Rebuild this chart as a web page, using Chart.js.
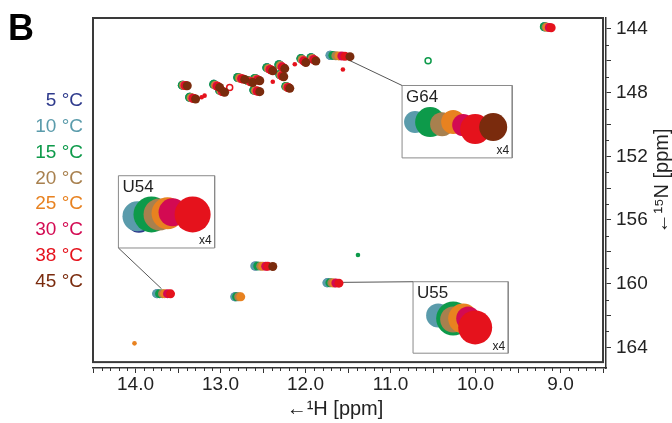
<!DOCTYPE html>
<html>
<head>
<meta charset="utf-8">
<script src="https://cdn.jsdelivr.net/npm/chart.js@4.4.1/dist/chart.umd.min.js"></script>
<style>
  html, body { margin: 0; padding: 0; background: #fff; }
  #wrap { width: 672px; height: 423px; }
</style>
</head>
<body>
<div id="wrap"><canvas id="nmr" width="672" height="423"></canvas></div>
<script>
// Temperatures and their colours
const temperatures = ['5 °C', '10 °C', '15 °C', '20 °C', '25 °C', '30 °C', '38 °C', '45 °C'];
const tempColors = ['#2e3a8c', '#5a9bab', '#0d9a4a', '#a8804e', '#e88220', '#d30a52', '#e5121c', '#7a2b0d'];

// Axis ranges (ppm) and tick labels
const hRange = [14.5, 8.5];
const nRange = [143.31, 164.93];
const hTickLabels = [14, 13, 12, 11, 10, 9];
const nTickLabels = [144, 148, 152, 156, 160, 164];

// Imino cross peaks (1H ppm, 15N ppm) for each temperature
const peaks05 = [
  {x: 13.446, y: 147.53}, {x: 13.360, y: 148.29}, {x: 13.077, y: 147.48}, {x: 13.006, y: 147.86},
  {x: 12.794, y: 147.05}, {x: 12.676, y: 147.24}, {x: 12.593, y: 147.11}, {x: 12.605, y: 147.84},
  {x: 12.452, y: 146.43}, {x: 12.310, y: 146.24}, {x: 12.299, y: 146.86}, {x: 12.228, y: 147.61},
  {x: 12.051, y: 145.86}, {x: 11.933, y: 145.80}, {x: 11.708, y: 145.65}, {x: 9.187, y: 143.86},
  {x: 12.590, y: 158.89}, {x: 12.826, y: 160.82}, {x: 13.745, y: 160.63}, {x: 11.742, y: 159.95}
];
const peaks10 = [
  {x: 13.448, y: 147.53}, {x: 13.362, y: 148.29}, {x: 13.079, y: 147.48}, {x: 13.008, y: 147.86},
  {x: 12.796, y: 147.05}, {x: 12.678, y: 147.24}, {x: 12.595, y: 147.11}, {x: 12.607, y: 147.84},
  {x: 12.454, y: 146.43}, {x: 12.312, y: 146.24}, {x: 12.301, y: 146.86}, {x: 12.230, y: 147.61},
  {x: 12.053, y: 145.86}, {x: 11.935, y: 145.80}, {x: 11.713, y: 145.65}, {x: 9.189, y: 143.86},
  {x: 12.597, y: 158.89}, {x: 12.833, y: 160.82}, {x: 13.753, y: 160.63}, {x: 11.749, y: 159.95}
];
const peaks15 = [
  {x: 13.450, y: 147.53}, {x: 13.364, y: 148.29}, {x: 13.081, y: 147.48}, {x: 13.010, y: 147.86},
  {x: 12.798, y: 147.05}, {x: 12.680, y: 147.24}, {x: 12.597, y: 147.11}, {x: 12.609, y: 147.84},
  {x: 12.456, y: 146.43}, {x: 12.314, y: 146.24}, {x: 12.303, y: 146.86}, {x: 12.232, y: 147.61},
  {x: 12.055, y: 145.86}, {x: 11.937, y: 145.80}, {x: 11.678, y: 145.66}, {x: 9.191, y: 143.86},
  {x: 12.562, y: 158.89}, {x: 12.810, y: 160.82}, {x: 13.717, y: 160.63}, {x: 11.713, y: 159.95}
];
const peaks20 = [
  {x: 13.435, y: 147.54}, {x: 13.346, y: 148.32}, {x: 13.063, y: 147.53}, {x: 12.995, y: 147.89},
  {x: 12.777, y: 147.08}, {x: 12.665, y: 147.27}, {x: 12.582, y: 147.15}, {x: 12.591, y: 147.87},
  {x: 12.438, y: 146.48}, {x: 12.297, y: 146.30}, {x: 12.291, y: 146.90}, {x: 12.220, y: 147.64},
  {x: 12.040, y: 145.92}, {x: 11.922, y: 145.85}, {x: 11.643, y: 145.68}, {x: 9.170, y: 143.88},
  {x: 12.527, y: 158.90}, {x: 12.786, y: 160.82}, {x: 13.682, y: 160.63}, {x: 11.690, y: 159.95}
];
const peaks25 = [
  {x: 13.426, y: 147.55}, {x: 13.336, y: 148.33}, {x: 13.053, y: 147.56}, {x: 12.986, y: 147.91},
  {x: 12.765, y: 147.10}, {x: 12.656, y: 147.29}, {x: 12.573, y: 147.17}, {x: 12.581, y: 147.88},
  {x: 12.428, y: 146.51}, {x: 12.286, y: 146.34}, {x: 12.284, y: 146.92}, {x: 12.213, y: 147.66},
  {x: 12.031, y: 145.96}, {x: 11.913, y: 145.88}, {x: 11.607, y: 145.69}, {x: 9.155, y: 143.89},
  {x: 12.503, y: 158.90}, {x: 12.762, y: 160.83}, {x: 13.658, y: 160.63}, {x: 11.666, y: 159.96}
];
const peaks30 = [
  {x: 13.418, y: 147.55}, {x: 13.325, y: 148.35}, {x: 13.042, y: 147.58}, {x: 12.978, y: 147.93},
  {x: 12.752, y: 147.12}, {x: 12.648, y: 147.31}, {x: 12.565, y: 147.19}, {x: 12.570, y: 147.90},
  {x: 12.417, y: 146.54}, {x: 12.276, y: 146.38}, {x: 12.277, y: 146.94}, {x: 12.206, y: 147.68},
  {x: 12.023, y: 146.00}, {x: 11.905, y: 145.92}, {x: 11.572, y: 145.70}, {x: 9.132, y: 143.91},
  {x: 12.468, y: 158.91}, {x: 13.623, y: 160.63}, {x: 11.643, y: 159.96}
];
const peaks38 = [
  {x: 13.406, y: 147.56}, {x: 13.311, y: 148.37}, {x: 13.028, y: 147.62}, {x: 12.966, y: 147.95},
  {x: 12.736, y: 147.14}, {x: 12.636, y: 147.33}, {x: 12.553, y: 147.22}, {x: 12.556, y: 147.92},
  {x: 12.403, y: 146.58}, {x: 12.262, y: 146.43}, {x: 12.268, y: 146.97}, {x: 12.197, y: 147.70},
  {x: 12.011, y: 146.05}, {x: 11.893, y: 145.96}, {x: 11.536, y: 145.71}, {x: 9.110, y: 143.92},
  {x: 12.444, y: 158.91}, {x: 13.588, y: 160.64}, {x: 11.607, y: 159.97}
];
const peaks45 = [
  {x: 13.391, y: 147.57}, {x: 13.293, y: 148.40}, {x: 13.010, y: 147.67}, {x: 12.951, y: 147.98},
  {x: 12.715, y: 147.17}, {x: 12.621, y: 147.36}, {x: 12.538, y: 147.25}, {x: 12.538, y: 147.94},
  {x: 12.385, y: 146.63}, {x: 12.244, y: 146.49}, {x: 12.256, y: 147.00}, {x: 12.185, y: 147.73},
  {x: 11.996, y: 146.11}, {x: 11.878, y: 146.01}, {x: 11.477, y: 145.74}, {x: 12.385, y: 158.92}
];
const mainPeaks = [peaks05, peaks10, peaks15, peaks20, peaks25, peaks30, peaks38, peaks45];

// weak single-temperature peaks (dots) and contour rings
const weakDots = [[], [], [{x: 11.383, y: 158.20}], [], [{x: 14.012, y: 163.75}], [],
  [{x: 12.385, y: 147.32}, {x: 12.126, y: 146.22}, {x: 11.560, y: 146.55}, {x: 13.187, y: 148.19}, {x: 13.222, y: 148.29}], []];
const weakRings = [[], [], [{x: 10.558, y: 145.99}], [], [], [], [{x: 12.892, y: 147.67}], []];

// x4 insets: box corners and magnified peaks per temperature
const insetNames = ['G64', 'U54', 'U55'];
const insetX = [[10.864, 9.568], [14.201, 13.069], [10.735, 9.615]];
const insetY = [[147.55, 152.10], [153.22, 157.76], [159.88, 164.37]];
const insetG64 = [
  {x: 10.690, y: 149.90}, {x: 10.711, y: 149.85}, {x: 10.534, y: 149.85}, {x: 10.393, y: 149.98},
  {x: 10.263, y: 149.85}, {x: 10.145, y: 150.04}, {x: 10.004, y: 150.29}, {x: 9.792, y: 150.16}
];
const insetU54 = [
  {x: 13.960, y: 156.05}, {x: 13.977, y: 155.77}, {x: 13.812, y: 155.65}, {x: 13.717, y: 155.65},
  {x: 13.623, y: 155.58}, {x: 13.564, y: 155.52}, {x: 13.328, y: 155.65}, null
];
const insetU55 = [
  {x: 10.425, y: 162.10}, {x: 10.440, y: 162.00}, {x: 10.263, y: 162.19}, {x: 10.263, y: 162.25},
  {x: 10.145, y: 162.19}, {x: 10.086, y: 162.19}, {x: 10.004, y: 162.75}, null
];
const insetPeaks = [insetG64, insetU54, insetU55];
// lines from the peak in the spectrum to its inset
const insetLinks = [
  [{x: 11.477, y: 145.99}, {x: 10.864, y: 147.55}],
  [{x: 14.201, y: 157.76}, {x: 13.694, y: 160.32}],
  [{x: 11.58, y: 159.92}, {x: 10.735, y: 159.88}]
];

// blob sizes inside the insets (px)
const insetRadius = [
  [9, 11, 15, 12, 12, 11, 15, 14],
  [12, 15, 18, 16, 16, 14, 18, 0],
  [9, 12, 17, 13, 15, 12, 17, 0]
];

const FONT = '"Liberation Sans", Arial, sans-serif';
Chart.defaults.font.family = FONT;

const datasets = [];
// inset boxes and connector lines, drawn under everything
insetNames.forEach((name, b) => {
  const [x0, x1] = insetX[b];
  const [y0, y1] = insetY[b];
  datasets.push({
    data: [{x: x0, y: y0}, {x: x1, y: y0}, {x: x1, y: y1}, {x: x0, y: y1}, {x: x0, y: y0}],
    showLine: true, borderColor: '#8a8a8a', borderWidth: 1, pointRadius: 0, order: 200
  });
  datasets.push({
    data: insetLinks[b],
    showLine: true, borderColor: '#555', borderWidth: 1, pointRadius: 0, order: 199
  });
});

temperatures.forEach((t, i) => {
  const col = tempColors[i];
  const order = 100 - i; // higher temperature drawn on top
  datasets.push({
    label: t, data: mainPeaks[i], backgroundColor: col, borderColor: col,
    pointRadius: 4.5, pointBorderWidth: 0, order: order
  });
  if (weakDots[i].length) {
    datasets.push({
      data: weakDots[i], backgroundColor: col, borderColor: col,
      pointRadius: 2.3, pointBorderWidth: 0, order: order
    });
  }
  if (weakRings[i].length) {
    datasets.push({
      data: weakRings[i], backgroundColor: 'rgba(255,255,255,0.6)', borderColor: col,
      pointRadius: 3, pointBorderWidth: 1.5, order: order
    });
  }
  insetPeaks.forEach((arr, b) => {
    if (!arr[i]) return;
    datasets.push({
      data: [arr[i]], backgroundColor: col, borderColor: col,
      pointRadius: insetRadius[b][i], pointBorderWidth: 0, order: order
    });
  });
});

// frame, minor ticks and all free text
const decor = {
  id: 'decor',
  beforeDatasetsDraw(chart) {
    const {ctx, scales: {x, y}} = chart;
    ctx.save();
    ctx.strokeStyle = '#3a3a3a';
    ctx.lineWidth = 2;
    const l = x.getPixelForValue(hRange[0]), r = x.getPixelForValue(hRange[1]);
    const t = y.getPixelForValue(nRange[0]), b = y.getPixelForValue(nRange[1]);
    ctx.strokeRect(l, t, r - l, b - t);
    ctx.restore();
  },
  afterDraw(chart) {
    const {ctx, chartArea, scales: {x, y}} = chart;
    ctx.save();
    // minor ticks
    ctx.strokeStyle = '#333';
    ctx.lineWidth = 1;
    ctx.beginPath();
    for (let v = 85; v <= 145; v++) {
      if (v % 5 === 0) continue;
      const px = Math.round(x.getPixelForValue(v / 10)) + 0.5;
      ctx.moveTo(px, chartArea.bottom);
      ctx.lineTo(px, chartArea.bottom + 3);
    }
    for (let v = 145; v <= 164; v += 2) {
      const py = Math.round(y.getPixelForValue(v)) + 0.5;
      ctx.moveTo(chartArea.right, py);
      ctx.lineTo(chartArea.right + 3, py);
    }
    ctx.stroke();

    // inset labels
    ctx.fillStyle = '#222';
    insetNames.forEach((name, b) => {
      const l = x.getPixelForValue(insetX[b][0]), r = x.getPixelForValue(insetX[b][1]);
      const t = y.getPixelForValue(insetY[b][0]), bt = y.getPixelForValue(insetY[b][1]);
      ctx.font = '17px ' + FONT;
      ctx.textAlign = 'left';
      ctx.textBaseline = 'top';
      ctx.fillText(name, l + 4, t + 3);
      ctx.font = '12px ' + FONT;
      ctx.textAlign = 'right';
      ctx.textBaseline = 'bottom';
      ctx.fillText('x4', r - 3, bt - 1);
    });

    // temperature legend
    ctx.font = '19px ' + FONT;
    ctx.textAlign = 'right';
    ctx.textBaseline = 'middle';
    temperatures.forEach((t, i) => {
      ctx.fillStyle = tempColors[i];
      ctx.fillText(t, 83, 101 + i * 25.8);
    });

    // panel letter
    ctx.fillStyle = '#000';
    ctx.font = 'bold 36px ' + FONT;
    ctx.textAlign = 'left';
    ctx.textBaseline = 'alphabetic';
    ctx.fillText('B', 8, 40);

    // axis titles
    ctx.fillStyle = '#222';
    ctx.font = '20px ' + FONT;
    ctx.textAlign = 'center';
    ctx.textBaseline = 'middle';
    ctx.fillText('←¹H [ppm]', 335, 409);
    ctx.translate(662, 181);
    ctx.rotate(-Math.PI / 2);
    ctx.fillText('←¹⁵N [ppm]', 0, 0);
    ctx.restore();
  }
};

new Chart(document.getElementById('nmr'), {
  type: 'scatter',
  data: { datasets: datasets },
  options: {
    responsive: false,
    animation: false,
    devicePixelRatio: 1,
    events: [],
    layout: { padding: { left: 93, top: 15, right: 0, bottom: 0 } },
    plugins: { legend: { display: false }, tooltip: { enabled: false } },
    scales: {
      x: {
        type: 'linear', position: 'bottom', reverse: true,
        min: 8.465, max: hRange[0],
        afterFit: (s) => { s.height = 55; },
        afterBuildTicks: (s) => {
          const ticks = [];
          for (let v = 29; v >= 17; v--) ticks.push({value: v / 2});
          s.ticks = ticks;
        },
        ticks: {
          color: '#222', font: { size: 19 }, padding: 0, maxRotation: 0, autoSkip: false,
          callback: (v) => hTickLabels.includes(v) ? v.toFixed(1) : ''
        },
        grid: { drawOnChartArea: false, drawTicks: true, tickLength: 5, color: '#333' },
        border: { display: true, color: '#333', width: 1.5 }
      },
      y: {
        type: 'linear', position: 'right', reverse: true,
        min: nRange[0], max: 165.30,
        afterFit: (s) => { s.width = 66; },
        afterBuildTicks: (s) => {
          const ticks = [];
          for (let v = 144; v <= 164; v += 2) ticks.push({value: v});
          s.ticks = ticks;
        },
        ticks: {
          color: '#222', font: { size: 19 }, padding: 5, autoSkip: false,
          callback: (v) => nTickLabels.includes(v) ? String(v) : ''
        },
        grid: { drawOnChartArea: false, drawTicks: true, tickLength: 5, color: '#333' },
        border: { display: true, color: '#333', width: 1.5 }
      }
    }
  },
  plugins: [decor]
});
</script>
</body>
</html>
